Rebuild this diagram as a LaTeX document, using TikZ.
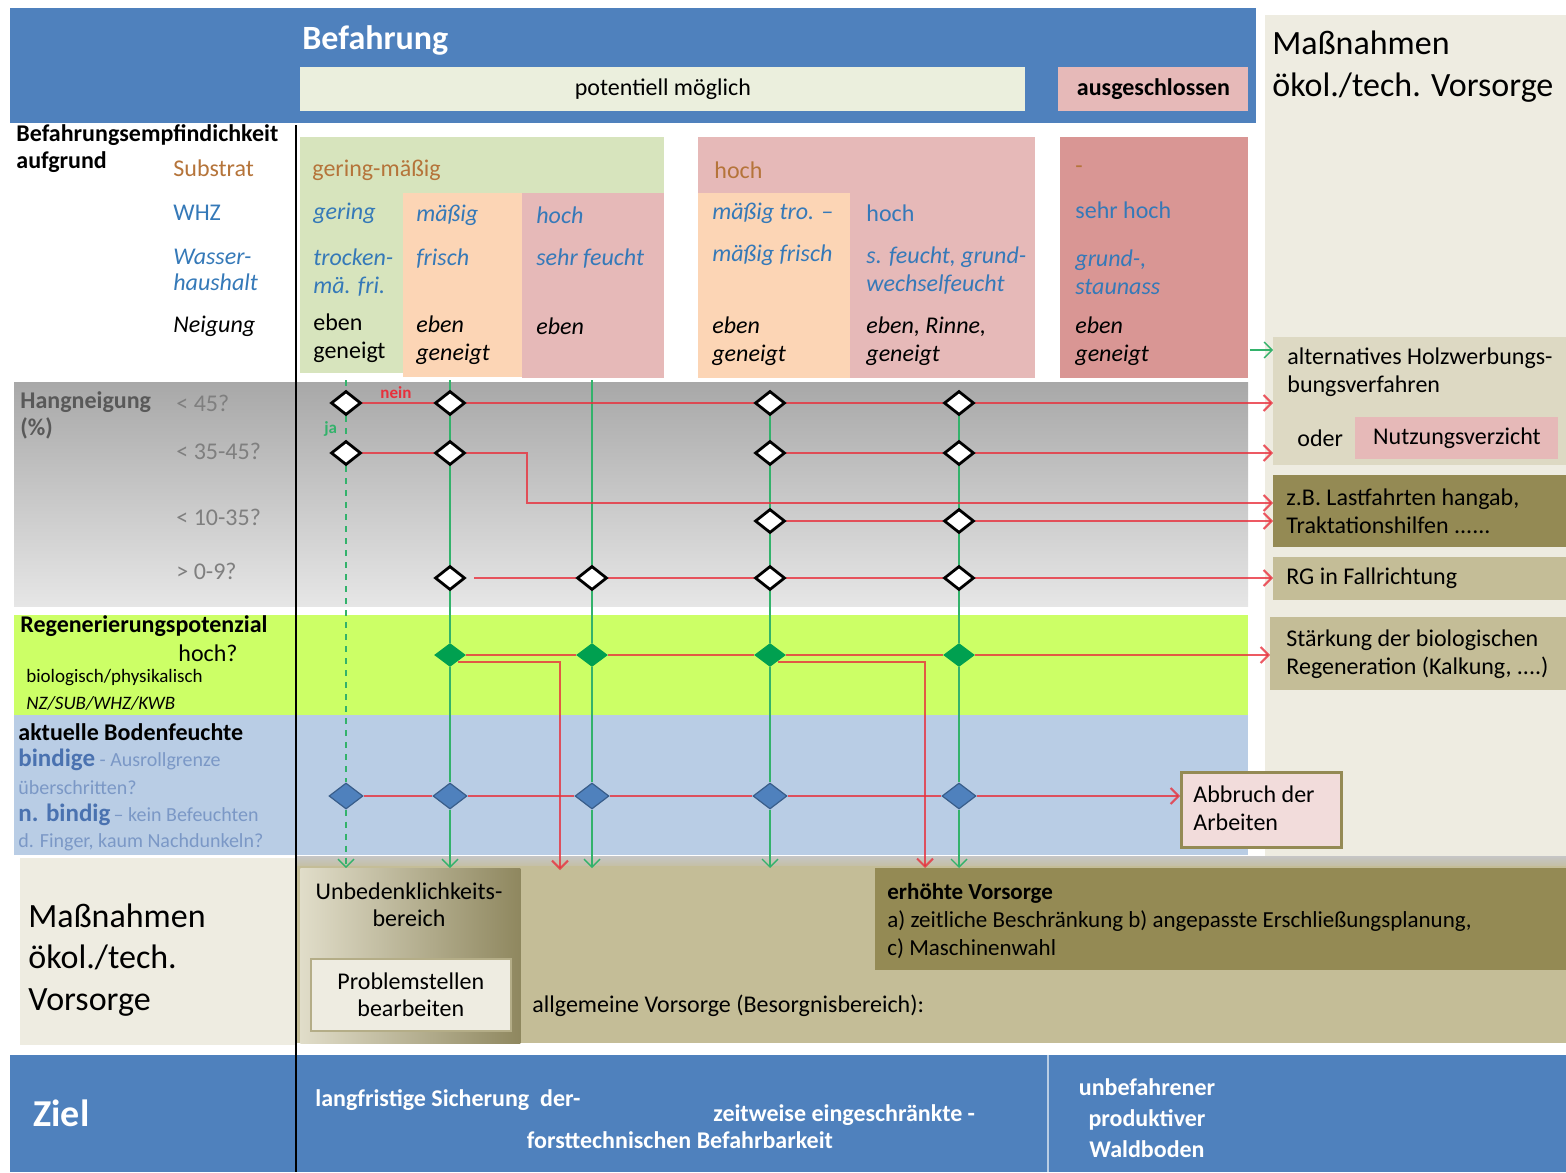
\documentclass[tikz,border=0pt]{standalone}
\usepackage{fontspec}
\setmainfont{Carlito}
\usetikzlibrary{shapes.geometric,arrows.meta}
\pgfdeclarelayer{bg}
\pgfdeclarelayer{lines}
\pgfsetlayers{bg,lines,main}

\definecolor{kopfblau}{HTML}{4F81BD}
\definecolor{panel}{HTML}{EEECE1}
\definecolor{hellbeige}{HTML}{EBEFDD}
\definecolor{gruenkopf}{HTML}{D7E4BD}
\definecolor{orangezelle}{HTML}{FCD5B5}
\definecolor{rosazelle}{HTML}{E6B9B8}
\definecolor{rosadunkel}{HTML}{D99694}
\definecolor{grauoben}{HTML}{A8A8A8}
\definecolor{grauunten}{HTML}{E6E6E6}
\definecolor{limette}{HTML}{CCFF66}
\definecolor{hellblau}{HTML}{B9CDE5}
\definecolor{tan}{HTML}{C4BD97}
\definecolor{tanhell}{HTML}{DDD9C3}
\definecolor{oliv}{HTML}{948A54}
\definecolor{abbruchrosa}{HTML}{F2DCDB}
\definecolor{braun}{HTML}{B5743A}
\definecolor{blautext}{HTML}{3579B8}
\definecolor{grautext}{HTML}{595959}
\definecolor{fragetext}{HTML}{7F7F7F}
\definecolor{bindblau}{HTML}{4A72B0}
\definecolor{bindklein}{HTML}{7B98C6}
\definecolor{rautegruen}{HTML}{00A050}
\definecolor{rauteblau}{HTML}{4F81BD}
\definecolor{rauteblaurand}{HTML}{385D8A}
\definecolor{jagruen}{HTML}{33B26B}
\definecolor{neinrot}{HTML}{E8303C}

\newcommand\sz[2]{\fontsize{#1}{#2}\selectfont}

\tikzset{
  txt/.style={anchor=west, inner sep=0pt, align=left, font=\sz{12}{14}},
  kursiv/.style={font=\sz{12}{14}\itshape},
  kasten/.style={rectangle, anchor=north west, inner sep=0pt},
  frage/.style={diamond, draw=black, line width=1.4pt, fill=white,
    minimum width=15pt, minimum height=12pt, inner sep=0pt},
  regen/.style={diamond, fill=rautegruen, minimum width=16pt,
    minimum height=12pt, inner sep=0pt},
  feucht/.style={diamond, fill=rauteblau, draw=rauteblaurand, line width=0.6pt,
    minimum width=17pt, minimum height=13pt, inner sep=0pt},
  jaline/.style={draw=jagruen, line width=0.7pt},
  neinline/.style={draw=neinrot, line width=1pt, draw opacity=0.8},
  spitze/.style={-{Straight Barb[length=4pt,width=8pt]}},
}

\begin{document}
\begin{tikzpicture}[x=0.5pt, y=-0.5pt]
  \useasboundingbox (0,0) rectangle (1566,1172);

  % flaechen
  \begin{pgfonlayer}{bg}
    \fill[kopfblau]    (10,8) rectangle (1256,123);
    \fill[panel]       (1265,15) rectangle (1566,858);
    \fill[gruenkopf]   (300,137) rectangle (664,373);
    \fill[orangezelle] (403,193) rectangle (522,377);
    \fill[rosazelle]   (522,193) rectangle (664,378);
    \fill[rosazelle]   (698,137) rectangle (1035,378);
    \fill[orangezelle] (698,193) rectangle (850,378);
    \fill[rosadunkel]  (1060,137) rectangle (1248,378);
    \shade[top color=grauoben, bottom color=grauunten] (14,382) rectangle (1248,606);
    \fill[limette]     (14,615) rectangle (1248,715);
    \fill[hellblau]    (14,715) rectangle (1248,855);
    \fill[panel]       (20,858) rectangle (296,1045);
    \shade[top color=gray!45, bottom color=tan] (296,856) rectangle (1566,870);
    \fill[tan]         (296,866) rectangle (1566,1043);
    \fill[kopfblau]    (10,1055) rectangle (1566,1172);
  \end{pgfonlayer}
  \draw[line width=0.8pt] (296,125) -- (296,1172);
  \draw[white!60!kopfblau, line width=1pt] (1048,1055) -- (1048,1172);

  % kopf
  \node [txt, text=white, font=\bfseries\sz{17}{20}] at (302,40) {Befahrung};
  \node [kasten, fill=hellbeige, minimum width=362.5pt, minimum height=22pt,
         font=\sz{12}{14}] (potmoegl) at (300,67) {potentiell möglich};
  \node [kasten, fill=rosazelle, minimum width=95pt, minimum height=22pt,
         font=\bfseries\sz{12}{14}] (ausgeschl) at (1058,67) {ausgeschlossen};
  \node [txt, font=\sz{17}{21}] at (1272,67) {Maßnahmen\\ökol./tech. Vorsorge};

  % empfindlichkeit
  \node [txt, font=\bfseries\sz{12}{13.5}] at (16,149) {Befahrungsempfindichkeit\\aufgrund};
  \node [txt, text=braun] at (173,168) {Substrat};
  \node [txt, text=blautext] at (173,213) {WHZ};
  \node [txt, kursiv, text=blautext, font=\sz{12}{13}\itshape] at (173,270) {Wasser-\\haushalt};
  \node [txt, kursiv] at (173,326) {Neigung};

  \node [txt, text=braun] at (312,170) {gering-mäßig};
  \node [txt, kursiv, text=blautext] at (313,213) {gering};
  \node [txt, kursiv, text=blautext] at (313,273) {trocken-\\mä. fri.};
  \node [txt] at (313,338) {eben\\geneigt};
  \node [txt, kursiv, text=blautext] at (416,215) {mäßig};
  \node [txt, kursiv, text=blautext] at (416,259) {frisch};
  \node [txt, kursiv] at (416,340) {eben\\geneigt};
  \node [txt, kursiv, text=blautext] at (536,215) {hoch};
  \node [txt, kursiv, text=blautext] at (536,259) {sehr feucht};
  \node [txt, kursiv] at (536,326) {eben};

  \node [txt, text=braun] at (714,170) {hoch};
  \node [txt, kursiv, text=blautext] at (712,213) {mäßig tro. –};
  \node [txt, kursiv, text=blautext] at (712,255) {mäßig frisch};
  \node [txt, kursiv] at (712,341) {eben\\geneigt};
  \node [txt, text=blautext] at (866,213) {hoch};
  \node [txt, kursiv, text=blautext] at (866,271) {s. feucht, grund-\\wechselfeucht};
  \node [txt, kursiv] at (866,341) {eben, Rinne,\\geneigt};

  \node [txt, text=braun] at (1075,170) {-};
  \node [txt, text=blautext] at (1075,210) {sehr hoch};
  \node [txt, kursiv, text=blautext] at (1075,272) {grund-,\\staunass};
  \node [txt, kursiv] at (1075,341) {eben\\geneigt};

  % hangneigung
  \node [txt, text=grautext, font=\bfseries\sz{12}{13.5}] at (20,415) {Hangneigung\\(\%)};
  \node [txt, text=fragetext] at (176,403) {< 45?};
  \node [txt, text=fragetext] at (176,451) {< 35-45?};
  \node [txt, text=fragetext] at (176,517) {< 10-35?};
  \node [txt, text=fragetext] at (176,571) {> 0-9?};
  \node [txt, text=neinrot, font=\bfseries\sz{8.5}{9}] at (380,393) {nein};
  \node [txt, text=jagruen, font=\bfseries\sz{8.5}{9}] at (324,429) {ja};

  % regeneration
  \node [txt, font=\bfseries\sz{12}{14}] at (20,626) {Regenerierungspotenzial};
  \node [txt] at (178,653) {hoch?};
  \node [txt, font=\sz{9.5}{11}] at (26,678) {biologisch/physikalisch};
  \node [txt, font=\sz{9.5}{11}\itshape] at (26,703) {NZ/SUB/WHZ/KWB};

  % bodenfeuchte
  \node [txt, font=\bfseries\sz{12}{14}] at (18,732) {aktuelle Bodenfeuchte};
  \node [txt, text=bindklein, font=\sz{10}{11}] at (18,760)
    {{\color{bindblau}\bfseries\sz{12.5}{14}bindige} - Ausrollgrenze};
  \node [txt, text=bindklein, font=\sz{10}{11}] at (18,788) {überschritten?};
  \node [txt, text=bindklein, font=\sz{10}{11}] at (18,815)
    {{\color{bindblau}\bfseries\sz{12.5}{14}n. bindig}\,– kein Befeuchten};
  \node [txt, text=bindklein, font=\sz{10}{11}] at (18,842) {d. Finger, kaum Nachdunkeln?};

  % massnahmen rechts
  \node [kasten, fill=tanhell, minimum width=146.5pt, minimum height=64pt] (alt) at (1273,337) {};
  \node [txt] at (1287,372) {alternatives Holzwerbungs-\\bungsverfahren};
  \node [txt] at (1297,438) {oder};
  \node [kasten, fill=rosazelle, minimum width=101.5pt, minimum height=21pt,
         font=\sz{12}{14}] (nutzverz) at (1355,417) {Nutzungsverzicht};
  \node [kasten, fill=oliv, minimum width=146.5pt, minimum height=36pt] (lastfahrt) at (1273,475) {};
  \node [txt] at (1286,511) {z.B. Lastfahrten hangab,\\Traktationshilfen ......};
  \node [kasten, fill=tan, minimum width=146.5pt, minimum height=21.5pt] (rgfall) at (1273,557) {};
  \node [txt] at (1286,578) {RG in Fallrichtung};
  \node [kasten, fill=tan, minimum width=148pt, minimum height=36.5pt] (staerkung) at (1270,617) {};
  \node [txt] at (1286,654) {Stärkung der biologischen\\Regeneration (Kalkung, ....)};
  \node [kasten, fill=abbruchrosa, draw=oliv, line width=1.5pt, minimum width=80pt,
         minimum height=37.5pt] (abbruch) at (1180,771) {};
  \node [txt] at (1193,808) {Abbruch der\\Arbeiten};

  % massnahmen unten
  \node [txt, font=\sz{17}{20.75}] at (28,960) {Maßnahmen\\ökol./tech.\\Vorsorge};
  \node [kasten, left color=tanhell!90!white, right color=oliv!75!gray, minimum width=110pt,
         minimum height=87.5pt] (unbedenk) at (300,868) {};
  \node [align=center, inner sep=0pt, font=\sz{12}{13.5}] at (409,905) {Unbedenklichkeits-\\bereich};
  \node [kasten, fill=panel, draw=oliv!70, line width=0.8pt, minimum width=100pt,
         minimum height=36pt, align=center, font=\sz{12}{13.5}] (problem) at (310,958)
         {Problemstellen\\bearbeiten};
  \node [txt] at (532,1006) {allgemeine Vorsorge (Besorgnisbereich):};
  \node [kasten, fill=oliv, minimum width=345.5pt, minimum height=51pt] (erhoeht) at (875,868) {};
  \node [txt, font=\sz{11.5}{14}] at (887,921)
    {\textbf{erhöhte Vorsorge}\\a) zeitliche Beschränkung b) angepasste Erschließungsplanung,\\c) Maschinenwahl};

  % ziel
  \node [txt, text=white, font=\bfseries\sz{19}{22}] at (33,1113) {Ziel};
  \node [txt, text=white, font=\bfseries\sz{12}{14}] at (315,1100) {langfristige Sicherung\ \ der-};
  \node [txt, text=white, font=\bfseries\sz{12}{14}] at (713,1115) {zeitweise eingeschränkte -};
  \node [text=white, inner sep=0pt, font=\bfseries\sz{12}{14}] at (680,1140) {forsttechnischen Befahrbarkeit};
  \node [text=white, inner sep=0pt, align=center, font=\bfseries\sz{12}{15.5}] at (1147,1118)
    {unbefahrener\\produktiver\\Waldboden};

  % rauten
  \foreach \c/\x in {a/346,b/450,c/592,d/770,e/959} {
    \coordinate (top\c) at (\x,380);
    \coordinate (end\c) at (\x,868);
    \node [feucht] (bf\c) at (\x,796) {};
  }
  \foreach \c/\x in {a/346,b/450,d/770,e/959} {
    \node [frage] (h1\c) at (\x,403) {};
    \node [frage] (h2\c) at (\x,453) {};
  }
  \foreach \c/\x in {d/770,e/959}
    \node [frage] (h3\c) at (\x,521) {};
  \foreach \c/\x in {b/450,c/592,d/770,e/959} {
    \node [frage] (h4\c) at (\x,578) {};
    \node [regen] (rg\c) at (\x,655) {};
  }
  \coordinate (knick) at (527,503);
  \coordinate (dropb) at (560,870);
  \coordinate (dropd) at (925,868);
  \coordinate (gr3) at (1250,350);

  % verbindungen
  \begin{pgfonlayer}{lines}
    \draw[jaline, dashed, spitze] (topa) -- (h1a) -- (h2a) -- (bfa) -- (enda);
    \draw[jaline, spitze] (topb) -- (h1b) -- (h2b) -- (h4b) -- (rgb) -- (bfb) -- (endb);
    \draw[jaline, spitze] (topc) -- (h4c) -- (rgc) -- (bfc) -- (endc);
    \draw[jaline, spitze] (h1d) -- (h2d) -- (h3d) -- (h4d) -- (rgd) -- (bfd) -- (endd);
    \draw[jaline, spitze] (h1e) -- (h2e) -- (h3e) -- (h4e) -- (rge) -- (bfe) -- (ende);
    \draw[jaline, spitze] (gr3) -- (gr3 -| alt.west);

    \draw[neinline, spitze] (h1a) -- (h1b) -- (h1d) -- (h1e) -- (h1e -| alt.west);
    \draw[neinline, spitze] (h2a) -- (h2b) -- (knick |- h2b) -- (knick) -- (knick -| lastfahrt.west);
    \draw[neinline, spitze] (h2d) -- (h2e) -- (h2e -| alt.west);
    \draw[neinline, spitze] (h3d) -- (h3e) -- (h3e -| lastfahrt.west);
    \draw[neinline, spitze] ([xshift=4pt]h4b.east) -- (h4c) -- (h4d) -- (h4e) -- (h4e -| rgfall.west);
    \draw[neinline, spitze] (rgb) -- (rgc) -- (rgd) -- (rge) -- (rge -| staerkung.west);
    \draw[neinline, spitze] ([xshift=-4pt,yshift=-3.5pt]rgb.east) -| (dropb);
    \draw[neinline, spitze] ([xshift=-4pt,yshift=-3.5pt]rgd.east) -| (dropd);
    \draw[neinline, spitze] (bfa) -- (bfb) -- (bfc) -- (bfd) -- (bfe) -- (bfe -| abbruch.west);
  \end{pgfonlayer}
\end{tikzpicture}
\end{document}
